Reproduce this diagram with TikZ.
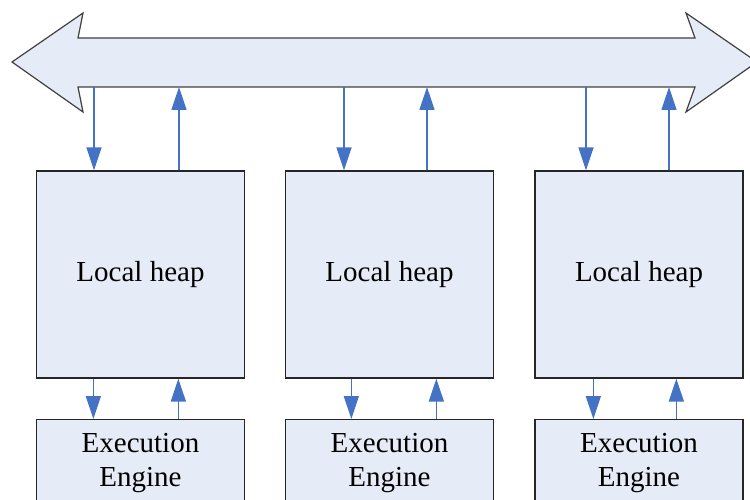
\documentclass[tikz,border=0pt]{standalone}
\usepackage{fontspec}
\setmainfont{Liberation Serif}
\usetikzlibrary{arrows.meta,calc}
\definecolor{paneFill}{RGB}{230,236,247}
\definecolor{linkBlue}{RGB}{68,114,196}
\definecolor{edgeGray}{RGB}{64,64,64}
\begin{document}
\begin{tikzpicture}[x=1pt,y=-1pt,
  heapbox/.style={draw=black!85, line width=1.3pt, fill=paneFill,
    minimum width=208pt, minimum height=207pt, inner sep=0pt,
    font=\fontsize{29}{34}\selectfont},
  enginebox/.style={draw=black!85, line width=1.3pt, fill=paneFill,
    minimum width=208pt, anchor=north, inner xsep=0pt, inner ysep=14pt,
    align=center, font=\fontsize{29}{34}\selectfont},
  link/.style={draw=linkBlue, line width=1.6pt,
    -{Triangle[length=23pt,width=15pt,fill=linkBlue]}}]
\useasboundingbox (0,0) rectangle (750,500);
\clip (0,0) rectangle (750,500);

% shared bus: a double-headed block arrow
\path[draw=edgeGray, line width=1.2pt, fill=paneFill, line join=miter]
  (12,62) -- (83,13) -- (78,38) -- (695,38) -- (686,13) -- (757,62)
  -- (686,112) -- (695,87) -- (78,87) -- (83,112) -- cycle;

% attachment points on the lower edge of the bus
\coordinate (t1d) at (94,87);
\coordinate (t1u) at (179,87);
\coordinate (t2d) at (344,87);
\coordinate (t2u) at (427,87);
\coordinate (t3d) at (586,87);
\coordinate (t3u) at (669,87);

% local heaps
\node[heapbox] (h1) at (140.5,274.5) {Local heap};
\node[heapbox] (h2) at (389.5,274.5) {Local heap};
\node[heapbox] (h3) at (639,274.5) {Local heap};

% execution engines
\node[enginebox] (e1) at (140.5,419) {Execution\\Engine};
\node[enginebox] (e2) at (389.5,419) {Execution\\Engine};
\node[enginebox] (e3) at (639,419) {Execution\\Engine};

% bus <-> heap links
\draw[link] (t1d) -- (t1d |- h1.north);
\draw[link] (t1u |- h1.north) -- (t1u);
\draw[link] (t2d) -- (t2d |- h2.north);
\draw[link] (t2u |- h2.north) -- (t2u);
\draw[link] (t3d) -- (t3d |- h3.north);
\draw[link] (t3u |- h3.north) -- (t3u);

% heap <-> engine links
\draw[link] ($(h1.south west)+(57.5,0)$) -- ($(e1.north west)+(57.5,0)$);
\draw[link] ($(e1.north west)+(142.5,0)$) -- ($(h1.south west)+(142.5,0)$);
\draw[link] ($(h2.south west)+(66.5,0)$) -- ($(e2.north west)+(66.5,0)$);
\draw[link] ($(e2.north west)+(151.5,0)$) -- ($(h2.south west)+(151.5,0)$);
\draw[link] ($(h3.south west)+(59,0)$) -- ($(e3.north west)+(59,0)$);
\draw[link] ($(e3.north west)+(142,0)$) -- ($(h3.south west)+(142,0)$);
\end{tikzpicture}
\end{document}
